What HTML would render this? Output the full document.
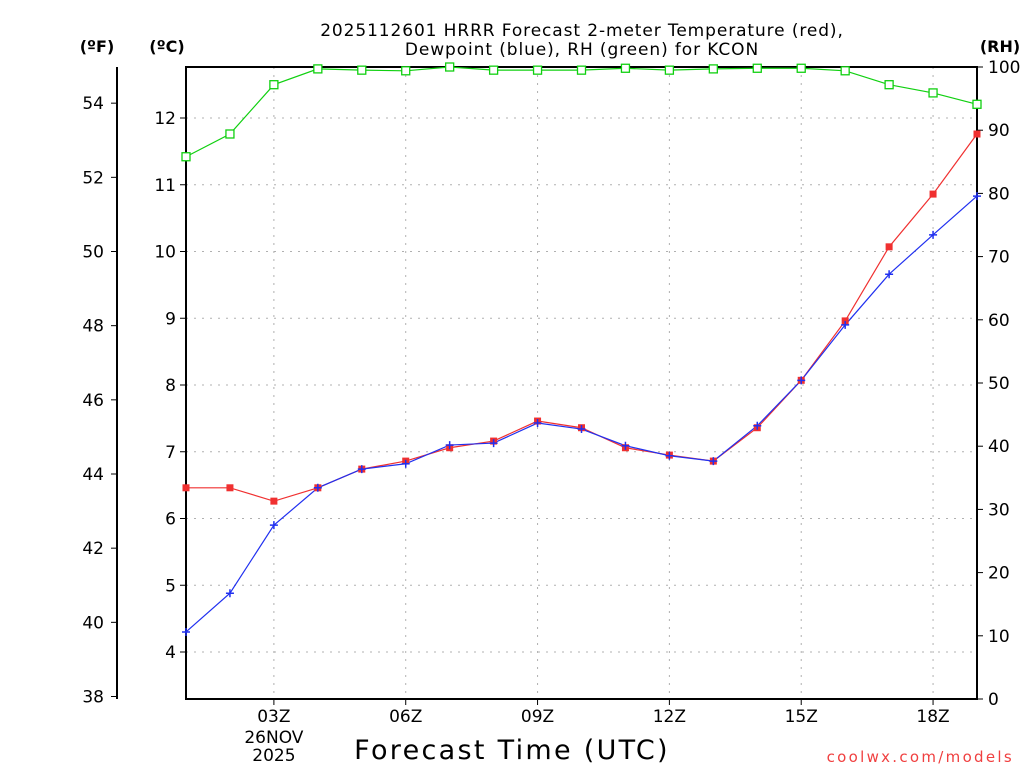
<!DOCTYPE html>
<html><head><meta charset="utf-8">
<style>
body{margin:0;background:#fff;}
svg text{font-family:"DejaVu Sans","Liberation Sans",sans-serif;}
</style></head>
<body>
<svg id="chart" width="1024" height="768" viewBox="0 0 1024 768" xmlns="http://www.w3.org/2000/svg">
<rect width="1024" height="768" fill="#fff"/>
<g id="grid"></g>
<g id="axes"></g>
<g id="series"></g>
<text x="582" y="36" text-anchor="middle" font-size="17" letter-spacing="0.9">2025112601 HRRR Forecast 2-meter Temperature (red),</text>
<text x="582" y="55" text-anchor="middle" font-size="17" letter-spacing="0.9">Dewpoint (blue), RH (green) for KCON</text>
<text x="97" y="52" text-anchor="middle" font-size="16" font-weight="bold">(ºF)</text>
<text x="167" y="52" text-anchor="middle" font-size="16" font-weight="bold">(ºC)</text>
<text x="1000" y="52" text-anchor="middle" font-size="16" font-weight="bold">(RH)</text>
<text x="512" y="759" text-anchor="middle" font-size="27" letter-spacing="2.3">Forecast Time (UTC)</text>
<text x="1014" y="762" text-anchor="end" font-size="15" letter-spacing="2.3" fill="#f04040">coolwx.com/models</text>
</svg>
<script>
const hours = [1,2,3,4,5,6,7,8,9,10,11,12,13,14,15,16,17,18,19];
const tempC = [6.46,6.46,6.26,6.46,6.74,6.86,7.06,7.16,7.46,7.36,7.06,6.95,6.86,7.36,8.07,8.96,10.07,10.86,11.76];
const dewC = [4.3,4.88,5.9,6.46,6.74,6.82,7.1,7.13,7.43,7.34,7.09,6.94,6.86,7.39,8.07,8.9,9.66,10.25,10.83];
const rh = [85.8,89.4,97.2,99.7,99.5,99.4,100,99.5,99.5,99.5,99.8,99.5,99.7,99.8,99.8,99.4,97.2,95.9,94.1];
const cTicks = [4,5,6,7,8,9,10,11,12];
const fTicks = [38,40,42,44,46,48,50,52,54];
const rhTicks = [0,10,20,30,40,50,60,70,80,90,100];
const xTickHours = [3,6,9,12,15,18];
const xTickLabels = ["03Z","06Z","09Z","12Z","15Z","18Z"];

const NS="http://www.w3.org/2000/svg";
const L=186,R=977,T=67,B=699;
const xs=h=>L+(h-1)*(R-L)/18;
const yC=c=>118+(12-c)*66.75;
const yF=f=>yC((f-32)*5/9);
const yR=r=>B-r*(B-T)/100;
function el(tag,attrs,parent,txt){const e=document.createElementNS(NS,tag);for(const k in attrs)e.setAttribute(k,attrs[k]);if(txt!==undefined)e.textContent=txt;parent.appendChild(e);return e;}
const grid=document.getElementById('grid'),axes=document.getElementById('axes'),ser=document.getElementById('series');
cTicks.forEach(c=>{
  const g=el('line',{x1:L,x2:R,y1:yC(c),y2:yC(c),stroke:'#b0b0b0','stroke-dasharray':'2,6'},grid);
  
  
  el('line',{x1:L-6,x2:L,y1:yC(c),y2:yC(c),stroke:'#000'},axes);
  const t=el('text',{x:L-10,y:yC(c)+6,'text-anchor':'end','font-size':17},axes,String(c));
  
  
});
xTickHours.forEach((h,i)=>{
  const g=el('line',{x1:xs(h),x2:xs(h),y1:T,y2:B,stroke:'#b0b0b0','stroke-dasharray':'2,6'},grid);
  
  
  el('line',{x1:xs(h),x2:xs(h),y1:B,y2:B+6,stroke:'#000'},axes);
  const t=el('text',{x:xs(h),y:B+23,'text-anchor':'middle','font-size':17},axes,xTickLabels[i]);
  
  
});
const d1=el('text',{x:xs(3),y:B+44,'text-anchor':'middle','font-size':17},axes,'26NOV');


const d2=el('text',{x:xs(3),y:B+62,'text-anchor':'middle','font-size':17},axes,'2025');


el('line',{x1:117,x2:117,y1:T,y2:B,stroke:'#000','stroke-width':2},axes);
fTicks.forEach(f=>{
  el('line',{x1:111,x2:117,y1:yF(f),y2:yF(f),stroke:'#000'},axes);
  const t=el('text',{x:104,y:yF(f)+6,'text-anchor':'end','font-size':17},axes,String(f));
  
  
});
rhTicks.forEach(r=>{
  el('line',{x1:R,x2:R+6,y1:yR(r),y2:yR(r),stroke:'#000'},axes);
  const t=el('text',{x:R+11,y:yR(r)+6,'text-anchor':'start','font-size':17},axes,String(r));
  
  
});
const frame=el('rect',{x:L,y:T,width:R-L,height:B-T,fill:'none',stroke:'#000','stroke-width':2},axes);



function line(vals,yf,color,name){
  const p=el('polyline',{points:vals.map((v,i)=>xs(hours[i])+','+yf(v)).join(' '),fill:'none',stroke:color,'stroke-width':1.2},ser);
  
  
}
line(rh,yR,'#10d010','rh-line');
line(tempC,yC,'#f03030','temperature-line');
line(dewC,yC,'#2030f0','dewpoint-line');
rh.forEach((v,i)=>{
  const m=el('rect',{x:xs(hours[i])-4,y:yR(v)-4,width:8,height:8,fill:'#fff',stroke:'#10d010','stroke-width':1.3},ser);
  
  
});
tempC.forEach((v,i)=>{
  const m=el('rect',{x:xs(hours[i])-3.5,y:yC(v)-3.5,width:7,height:7,fill:'#f03030'},ser);
  
  
});
dewC.forEach((v,i)=>{
  const x=xs(hours[i]),y=yC(v);
  const m=el('path',{d:`M${x-4},${y}H${x+4}M${x},${y-4}V${y+4}`,stroke:'#2030f0','stroke-width':1.5},ser);
  
  
});
</script>
</body></html>
